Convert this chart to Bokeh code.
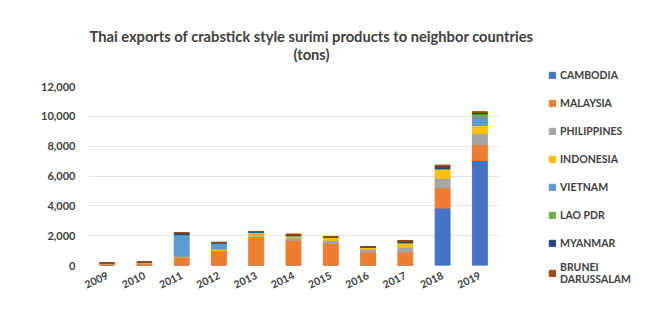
from bokeh.plotting import figure
from bokeh.models import ColumnDataSource, Range1d, FixedTicker, NumeralTickFormatter, Legend, LegendItem
from bokeh.core.properties import value
from bokeh.layouts import row, column
from bokeh.embed import file_html
from bokeh.resources import INLINE

years = ["2009", "2010", "2011", "2012", "2013", "2014", "2015", "2016", "2017", "2018", "2019"]
cambodia = [0, 0, 0, 0, 0, 0, 0, 0, 0, 3850, 7050]
malaysia = [120, 170, 550, 1000, 1900, 1700, 1500, 900, 900, 1350, 1050]
philippines = [0, 0, 30, 0, 100, 150, 200, 200, 330, 650, 740]
indonesia = [60, 60, 40, 100, 200, 150, 200, 120, 300, 620, 550]
vietnam = [0, 0, 1450, 400, 30, 0, 0, 0, 0, 0, 500]
lao_pdr = [0, 0, 0, 0, 0, 0, 0, 0, 0, 30, 270]
myanmar = [0, 0, 120, 50, 50, 60, 0, 30, 100, 150, 100]
brunei = [0, 0, 0, 0, 0, 50, 30, 30, 50, 80, 50]

series_keys = ["cambodia", "malaysia", "philippines", "indonesia", "vietnam", "lao_pdr", "myanmar", "brunei"]
series_labels = ["CAMBODIA", "MALAYSIA", "PHILIPPINES", "INDONESIA", "VIETNAM", "LAO PDR", "MYANMAR", "BRUNEI\nDARUSSALAM"]
colors = ["#4472C4", "#ED7D31", "#A5A5A5", "#FFC000", "#5B9BD5", "#70AD47", "#264478", "#9E480E"]
y_ticks = [0, 2000, 4000, 6000, 8000, 10000, 12000]
title_lines = ["Thai exports of crabstick style surimi products to neighbor countries", "(tons)"]

source = ColumnDataSource(dict(year=years, cambodia=cambodia, malaysia=malaysia, philippines=philippines,
                               indonesia=indonesia, vietnam=vietnam, lao_pdr=lao_pdr, myanmar=myanmar,
                               brunei=brunei))

FONT = "Lato"
TXT = "#404040"

# title header
h = figure(width=545, height=78, x_range=Range1d(0, 545), y_range=Range1d(78, 0),
           x_axis_type=None, y_axis_type=None, output_backend="svg", toolbar_location=None,
           min_border=0)
h.frame_align = False
h.title.text = ""
h.outline_line_color = None
h.xgrid.grid_line_color = None
h.ygrid.grid_line_color = None
h.text(x=[311, 311], y=[35, 53], text=title_lines, text_align="center", text_baseline="middle",
       text_font=value(FONT), text_font_size="14.7px", text_font_style="bold", text_color=TXT)

p = figure(width=545, height=247, x_range=years, y_range=Range1d(0, 12000),
           output_backend="svg", toolbar_location=None,
           min_border_left=88, min_border_right=47, min_border_top=8, min_border_bottom=60)
p.frame_align = False
p.title.text = ""

p.vbar_stack(series_keys, x="year", width=0.4, color=colors, source=source)

p.yaxis.ticker = FixedTicker(ticks=y_ticks)
p.yaxis.formatter = NumeralTickFormatter(format="0,0")
for ax in (p.xaxis[0], p.yaxis[0]):
    ax.axis_line_color = None
    ax.major_tick_line_color = None
    ax.minor_tick_line_color = None
    ax.major_label_text_font = FONT
    ax.major_label_text_font_style = "bold"
    ax.major_label_text_color = TXT
p.yaxis.major_label_text_font_size = "11px"
p.xaxis.major_label_text_font_size = "10.5px"
p.yaxis.major_label_standoff = 7
p.xaxis.major_label_orientation = 0.45
p.xaxis.major_label_standoff = 3

p.xgrid.grid_line_color = None
p.ygrid.grid_line_color = "#E4E4E4"
p.outline_line_color = None

# legend panel
q = figure(width=105, height=325, x_axis_type=None, y_axis_type=None, output_backend="svg",
           toolbar_location=None, min_border_left=3, min_border_top=65, min_border_right=0,
           min_border_bottom=0, x_range=Range1d(0, 1), y_range=Range1d(0, 1))
q.frame_align = False
q.title.text = ""
q.outline_line_color = None
q.xgrid.grid_line_color = None
q.ygrid.grid_line_color = None
items = []
for lbl, c in zip(series_labels, colors):
    r = q.vbar(x=[5], top=[1], width=0.1, color=c)
    items.append(LegendItem(label=lbl, renderers=[r]))
lg = Legend(items=items, location="top_left")
lg.border_line_color = None
lg.background_fill_alpha = 0
lg.padding = 0
lg.margin = 0
lg.spacing = 8
lg.glyph_width = 8
lg.glyph_height = 8
lg.label_height = 20
lg.label_standoff = 4
lg.label_text_font = FONT
lg.label_text_font_style = "bold"
lg.label_text_font_size = "10.5px"
lg.label_text_color = TXT
q.add_layout(lg, "center")

layout = row(column(h, p, spacing=0), q, spacing=0)
open("out.html", "w").write(file_html(layout, INLINE))
